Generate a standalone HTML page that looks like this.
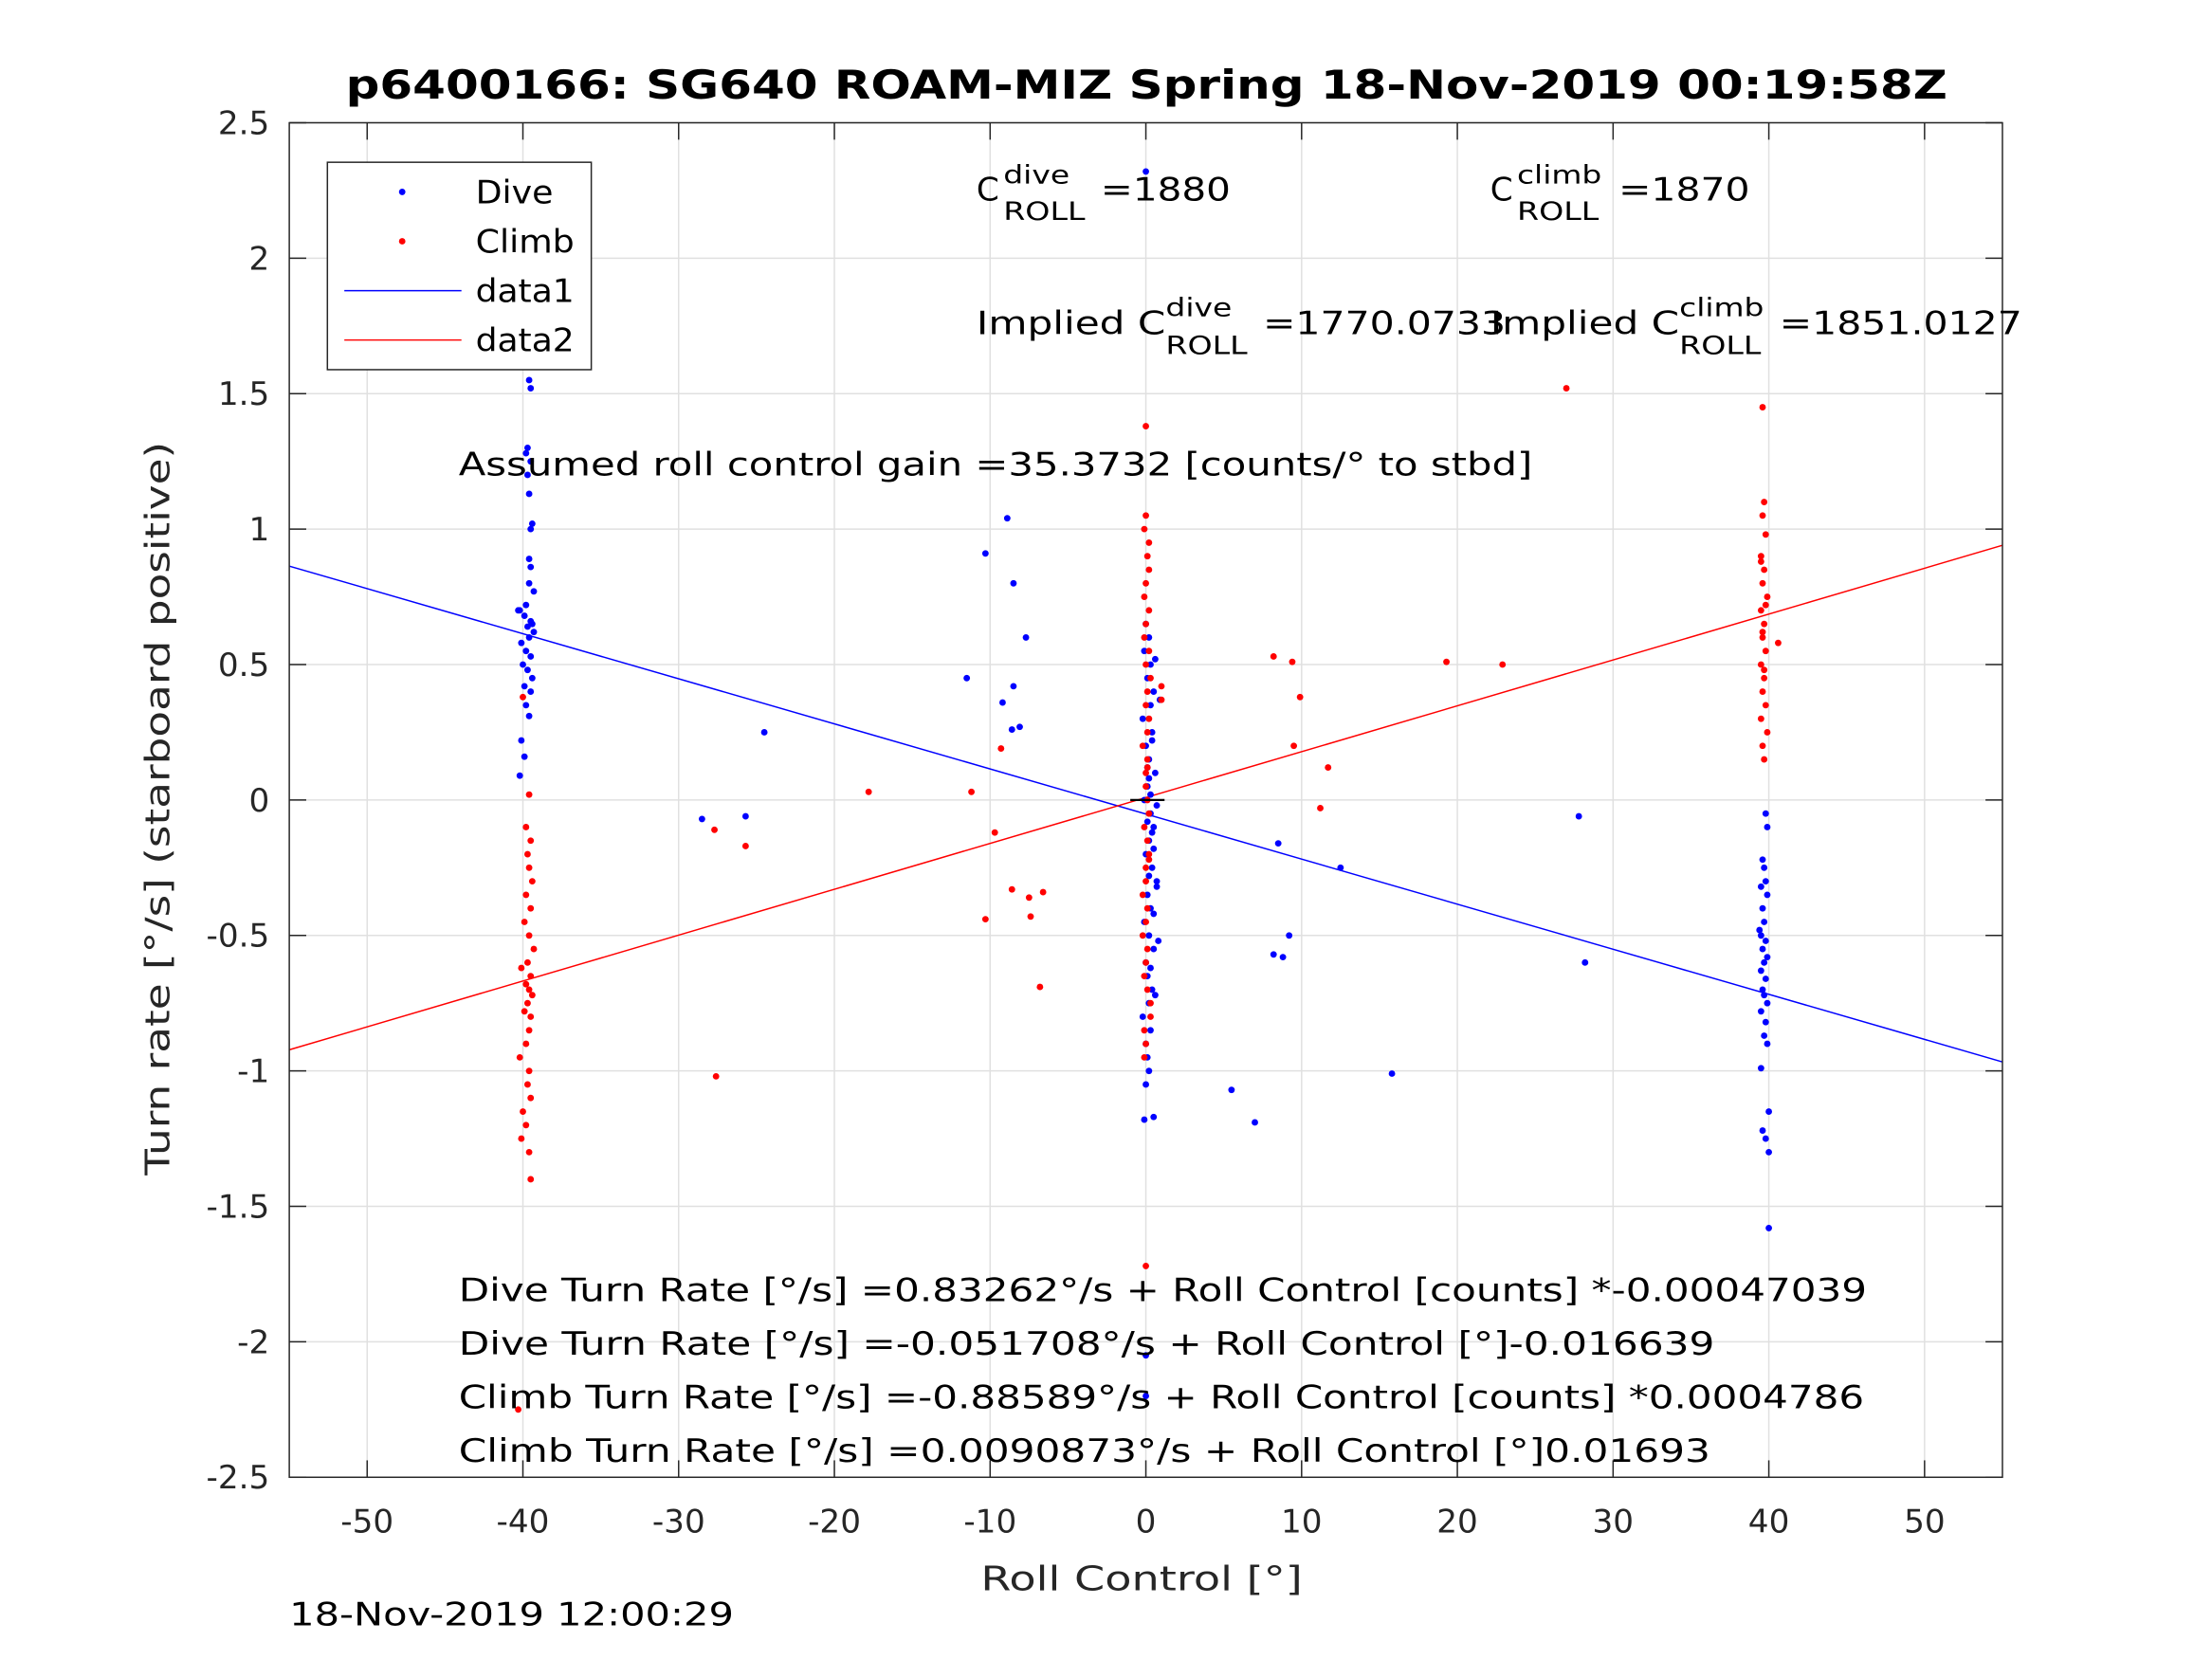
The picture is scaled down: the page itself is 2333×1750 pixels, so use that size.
<!DOCTYPE html>
<html><head><meta charset="utf-8"><style>
html,body{margin:0;padding:0;background:#fff;}
svg{display:block;font-family:"DejaVu Sans","Liberation Sans",sans-serif;}
</style></head><body>
<svg id="chart" width="2333" height="1750" viewBox="0 0 1567.5 1175.8" xmlns="http://www.w3.org/2000/svg">
<rect width="1567.5" height="1175.8" fill="#fff"/>
<text x="245" y="70" font-size="28" font-weight="bold" textLength="1135" lengthAdjust="spacingAndGlyphs" fill="#000">p6400166: SG640 ROAM-MIZ Spring 18-Nov-2019 00:19:58Z</text>
<g id="grid"></g>
<g id="lines"></g>
<g id="pts"></g>
<rect x="205" y="87" width="1214" height="960" fill="none" stroke="#262626" stroke-width="1"/>
<g id="ticks" font-size="23" fill="#262626"></g>
<text x="695" y="1127" font-size="24" textLength="228" lengthAdjust="spacingAndGlyphs" fill="#262626">Roll Control [°]</text>
<text transform="translate(120,833) rotate(-90)" font-size="24" textLength="520" lengthAdjust="spacingAndGlyphs" fill="#262626">Turn rate [°/s] (starboard positive)</text>
<text x="205" y="1152" font-size="23" textLength="315" lengthAdjust="spacingAndGlyphs" fill="#000">18-Nov-2019 12:00:29</text>
<g font-size="23" fill="#000">
<text x="692" y="142">C</text><text x="711" y="130" font-size="18" textLength="47" lengthAdjust="spacingAndGlyphs">dive</text><text x="711" y="156" font-size="18" textLength="58" lengthAdjust="spacingAndGlyphs">ROLL</text><text x="780" y="142" textLength="92" lengthAdjust="spacingAndGlyphs">=1880</text>
<text x="1056" y="142">C</text><text x="1075" y="130" font-size="18" textLength="60" lengthAdjust="spacingAndGlyphs">climb</text><text x="1075" y="156" font-size="18" textLength="58" lengthAdjust="spacingAndGlyphs">ROLL</text><text x="1147" y="142" textLength="93" lengthAdjust="spacingAndGlyphs">=1870</text>
<text x="692" y="237" textLength="134" lengthAdjust="spacingAndGlyphs">Implied C</text><text x="826" y="224" font-size="18" textLength="47" lengthAdjust="spacingAndGlyphs">dive</text><text x="826" y="251" font-size="18" textLength="58" lengthAdjust="spacingAndGlyphs">ROLL</text><text x="895" y="237" textLength="172" lengthAdjust="spacingAndGlyphs">=1770.0733</text>
<text x="1056" y="237" textLength="134" lengthAdjust="spacingAndGlyphs">Implied C</text><text x="1190" y="224" font-size="18" textLength="60" lengthAdjust="spacingAndGlyphs">climb</text><text x="1190" y="251" font-size="18" textLength="58" lengthAdjust="spacingAndGlyphs">ROLL</text><text x="1261" y="237" textLength="172" lengthAdjust="spacingAndGlyphs">=1851.0127</text>
<text x="325" y="337" textLength="761" lengthAdjust="spacingAndGlyphs">Assumed roll control gain =35.3732 [counts/° to stbd]</text>
<text x="325" y="922" textLength="998" lengthAdjust="spacingAndGlyphs">Dive Turn Rate [°/s] =0.83262°/s + Roll Control [counts] *-0.00047039</text>
<text x="325" y="960" textLength="890" lengthAdjust="spacingAndGlyphs">Dive Turn Rate [°/s] =-0.051708°/s + Roll Control [°]-0.016639</text>
<text x="325" y="998" textLength="996" lengthAdjust="spacingAndGlyphs">Climb Turn Rate [°/s] =-0.88589°/s + Roll Control [counts] *0.0004786</text>
<text x="325" y="1036" textLength="887" lengthAdjust="spacingAndGlyphs">Climb Turn Rate [°/s] =0.0090873°/s + Roll Control [°]0.01693</text>
</g>
<g>
<rect x="232" y="115" width="187" height="147" fill="#fff" stroke="#262626" stroke-width="1"/>
<circle cx="285" cy="136" r="2.3" fill="#00f"/><text x="337" y="144" font-size="23" textLength="55" lengthAdjust="spacingAndGlyphs">Dive</text>
<circle cx="285" cy="171" r="2.3" fill="#f00"/><text x="337" y="179" font-size="23" textLength="70" lengthAdjust="spacingAndGlyphs">Climb</text>
<line x1="244" y1="206" x2="327" y2="206" stroke="#00f"/><text x="337" y="214" font-size="23" textLength="70" lengthAdjust="spacingAndGlyphs">data1</text>
<line x1="244" y1="241" x2="327" y2="241" stroke="#f00"/><text x="337" y="249" font-size="23" textLength="70" lengthAdjust="spacingAndGlyphs">data2</text>
</g>
</svg>
<script>
const xTicks=[-50,-40,-30,-20,-10,0,10,20,30,40,50];
const yTicks=[-2.5,-2,-1.5,-1,-0.5,0,0.5,1,1.5,2,2.5];
const diveFit=[-0.051708,-0.016639];
const climbFit=[0.0090873,0.01693];
const diveX=[-40,-39.6,-39.5,-39.7,-39.8,-39.5,-39.7,-39.6,-39.4,-39.5,-39.6,-39.5,-39.6,-39.3,-39.8,-40.2,-39.9,-39.5,-39.7,-39.3,-39.6,-40.1,-39.8,-39.5,-40,-39.7,-39.4,-39.9,-39.5,-39.8,-39.6,-40.1,-39.9,-40.2,-40.3,-39.4,
39.8,39.9,39.6,39.7,39.8,39.5,39.9,39.6,39.7,39.4,39.5,39.8,39.6,39.9,39.7,39.5,39.8,39.6,39.7,39.9,39.5,39.8,39.7,39.9,39.5,39.6,39.8,40,40,40,
0,0.2,-0.1,0.3,0.1,0.5,-0.2,0.4,0,0.2,0.6,0.1,-0.1,0.3,0.5,0.2,0,0.4,0.7,0.1,0.3,-0.1,0.2,0.5,0,0.1,0.4,0.2,-0.2,0.3,0,0.1,0.2,0,-0.1,0.5,0.9,0,0,0,
0.6,0.3,0.1,0.7,0.4,0.2,0.5,0.8,0.3,0.6,0.1,0.4,0.7,0.2,0.5,0.3,
-24.5,-28.5,-25.7,-11.5,-10.3,-8.9,-8.5,-7.7,-8.5,-9.2,-8.6,-8.1,8.5,12.5,9.2,8.2,8.8,5.5,7,15.8,27.8,28.2];
const diveY=[1.6,1.55,1.52,1.3,1.28,1.25,1.2,1.13,1.02,1.0,0.89,0.86,0.8,0.77,0.72,0.7,0.68,0.66,0.64,0.62,0.6,0.58,0.55,0.53,0.5,0.48,0.45,0.42,0.4,0.35,0.31,0.22,0.16,0.09,0.7,0.65,
-0.05,-0.1,-0.22,-0.25,-0.3,-0.32,-0.35,-0.4,-0.45,-0.48,-0.5,-0.52,-0.55,-0.58,-0.6,-0.63,-0.66,-0.7,-0.72,-0.75,-0.78,-0.82,-0.87,-0.9,-0.99,-1.22,-1.25,-1.15,-1.3,-1.58,
0.65,0.6,0.55,0.5,0.45,0.4,0.3,0.25,0.2,0.15,0.1,0.05,0,-0.05,-0.1,-0.15,-0.2,-0.25,-0.3,-0.35,-0.4,-0.45,-0.5,-0.55,-0.6,-0.65,-0.7,-0.75,-0.8,-0.85,-0.9,-0.95,-1.0,-1.05,-1.18,-1.17,0.37,2.32,-2.05,-2.2,
0.52,0.35,0.12,-0.02,-0.12,-0.28,-0.42,-0.52,-0.62,-0.72,-0.08,0.22,-0.32,0.08,-0.18,0.02,
0.25,-0.07,-0.06,0.45,0.91,1.04,0.8,0.6,0.42,0.36,0.26,0.27,-0.16,-0.25,-0.5,-0.57,-0.58,-1.07,-1.19,-1.01,-0.06,-0.6];
const climbX=[-40,-39.6,-39.8,-39.5,-39.7,-39.6,-39.4,-39.8,-39.5,-39.9,-39.6,-39.3,-39.7,-40.1,-39.5,-39.8,-39.6,-39.4,-39.7,-39.9,-39.5,-39.6,-39.8,-40.2,-39.6,-39.7,-39.5,-40,-39.8,-40.1,-39.6,-39.5,-40.3,
39.6,39.7,39.6,39.8,39.5,39.7,39.6,39.9,39.5,39.7,39.6,39.8,39.5,39.7,39.6,39.8,39.5,39.9,39.6,39.7,39.5,39.8,39.6,39.7,
0,0,-0.1,0.1,0,0.2,-0.1,0,0.1,0.2,-0.2,0,0.1,-0.1,0.2,0,0.1,-0.2,0,0.1,0.3,0,-0.1,0.2,0,0.1,0,-0.1,0.1,0,0,
0.2,-0.1,0.3,0.1,0,0.2,-0.2,0.1,0.3,0,0.2,-0.1,0.1,0.2,
-27.7,-25.7,-17.8,-11.2,-10.3,-9.7,-9.3,-8.6,-7.4,-7.5,-6.6,-6.8,-27.6,8.2,9.4,9.9,9.5,11.7,11.2,19.3,22.9,27,40.6,1,1];
const climbY=[0.38,0.02,-0.1,-0.15,-0.2,-0.25,-0.3,-0.35,-0.4,-0.45,-0.5,-0.55,-0.6,-0.62,-0.65,-0.68,-0.7,-0.72,-0.75,-0.78,-0.8,-0.85,-0.9,-0.95,-1.0,-1.05,-1.1,-1.15,-1.2,-1.25,-1.3,-1.4,-2.25,
1.45,1.1,1.05,0.98,0.9,0.85,0.8,0.75,0.7,0.65,0.6,0.55,0.5,0.45,0.4,0.35,0.3,0.25,0.2,0.15,0.88,0.72,0.62,0.48,
1.38,1.05,1.0,0.9,0.8,0.7,0.6,0.5,0.4,0.3,0.2,0.1,0,-0.1,-0.2,-0.3,-0.4,-0.5,-0.6,-0.7,-0.8,-0.9,-0.95,0.55,0.35,-0.15,-0.45,-0.65,0.15,-0.25,-1.72,
0.95,0.75,0.45,0.25,0.05,-0.05,-0.35,-0.55,-0.75,0.65,0.85,-0.85,0.12,-0.22,
-0.11,-0.17,0.03,0.03,-0.44,-0.12,0.19,-0.33,-0.43,-0.36,-0.34,-0.69,-1.02,0.53,0.51,0.38,0.2,0.12,-0.03,0.51,0.5,1.52,0.58,0.42,0.37];
const NS="http://www.w3.org/2000/svg";
const L=205,R=1419,T=87,B=1047;
const sx=v=>L+(v+55)/110*(R-L);
const sy=v=>B-(v+2.5)/5*(B-T);
function mk(tag,attrs,parent){const e=document.createElementNS(NS,tag);for(const k in attrs)e.setAttribute(k,attrs[k]);parent.appendChild(e);return e;}
const grid=document.getElementById('grid'),ticks=document.getElementById('ticks');
xTicks.forEach(v=>{
 const g=mk('line',{x1:sx(v),x2:sx(v),y1:T,y2:B,stroke:'#e0e0e0','stroke-width':1},grid);
 
 
 mk('line',{x1:sx(v),x2:sx(v),y1:B,y2:B-12,stroke:'#262626'},ticks);
 mk('line',{x1:sx(v),x2:sx(v),y1:T,y2:T+12,stroke:'#262626'},ticks);
 const t=mk('text',{x:sx(v),y:B+39,'text-anchor':'middle'},ticks);t.textContent=v;
 
 
});
yTicks.forEach(v=>{
 const g=mk('line',{x1:L,x2:R,y1:sy(v),y2:sy(v),stroke:'#e0e0e0','stroke-width':1},grid);
 
 
 mk('line',{x1:L,x2:L+12,y1:sy(v),y2:sy(v),stroke:'#262626'},ticks);
 mk('line',{x1:R,x2:R-12,y1:sy(v),y2:sy(v),stroke:'#262626'},ticks);
 const t=mk('text',{x:L-14,y:sy(v)+8,'text-anchor':'end'},ticks);t.textContent=v;
 
 
});
const lines=document.getElementById('lines');
[[diveFit,'#00f','dive-fit-line'],[climbFit,'#f00','climb-fit-line']].forEach(([f,c,n])=>{
 const l=mk('line',{x1:sx(-55),y1:sy(f[0]+f[1]*-55),x2:sx(55),y2:sy(f[0]+f[1]*55),stroke:c,'stroke-width':1},lines);
 
 
});
const pts=document.getElementById('pts');
diveX.forEach((x,i)=>{const c=mk('circle',{cx:sx(x),cy:sy(diveY[i]),r:2.3,fill:'#00f'},pts);
 
 });
climbX.forEach((x,i)=>{const c=mk('circle',{cx:sx(x),cy:sy(climbY[i]),r:2.3,fill:'#f00'},pts);
 
 });
const m=mk('line',{x1:sx(-1),x2:sx(1.2),y1:sy(0),y2:sy(0),stroke:'#000','stroke-width':1.5},pts);


</script>
</body></html>
